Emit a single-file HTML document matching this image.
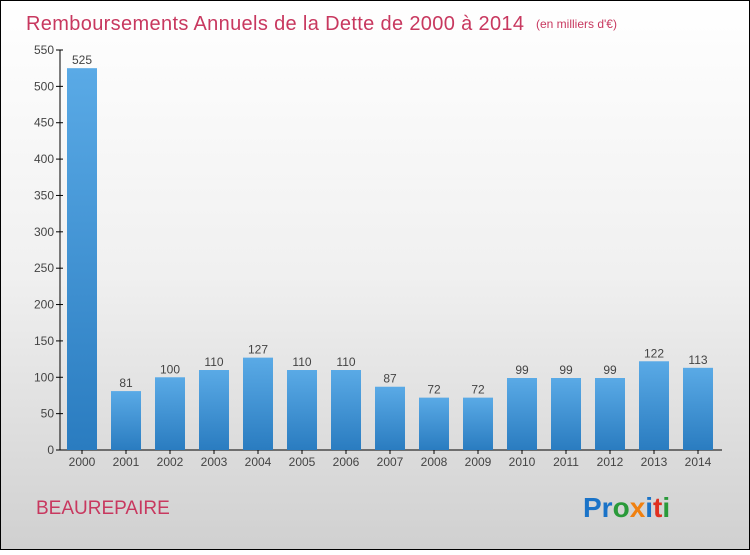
<!DOCTYPE html>
<html><head><meta charset="utf-8"><style>
body{margin:0;width:750px;height:550px;overflow:hidden;font-family:"Liberation Sans",sans-serif}
</style></head><body>
<svg width="750" height="550" xmlns="http://www.w3.org/2000/svg">
<defs>
<linearGradient id="bg" x1="0" y1="0" x2="0" y2="1"><stop offset="0" stop-color="#ffffff"/><stop offset="0.5" stop-color="#f0f0f0"/><stop offset="1" stop-color="#d0d0d0"/></linearGradient>
<linearGradient id="bar" x1="0" y1="0" x2="0" y2="1"><stop offset="0" stop-color="#5aaae6"/><stop offset="1" stop-color="#2a7cc0"/></linearGradient>
</defs>
<rect x="0.5" y="0.5" width="749" height="549" fill="url(#bg)" stroke="#000"/>
<text x="26" y="30" font-size="20" fill="#c8385f" textLength="498">Remboursements Annuels de la Dette de 2000 à 2014</text>
<text x="536" y="28" font-size="12" fill="#c8385f">(en milliers d'€)</text>
<text x="36" y="514" font-size="19" fill="#c8385f">BEAUREPAIRE</text>
<text x="583" y="517" font-size="28" font-weight="bold"><tspan fill="#1a73c8">Pr</tspan><tspan fill="#2a9a3a">o</tspan><tspan fill="#f08010">x</tspan><tspan fill="#1a73c8">i</tspan><tspan fill="#e03020">t</tspan><tspan fill="#2a9a3a">i</tspan></text>
<g id="axes"></g><g id="bars"></g>
</svg>
<script>
const categories=["2000","2001","2002","2003","2004","2005","2006","2007","2008","2009","2010","2011","2012","2013","2014"];
const values=[525,81,100,110,127,110,110,87,72,72,99,99,99,122,113];
const ticks=[0,50,100,150,200,250,300,350,400,450,500,550];
const NS="http://www.w3.org/2000/svg";
const y0=450,yTop=50,maxV=550,x0=60,step=44,firstC=82,bw=30;
const y=v=>y0-(v/maxV)*(y0-yTop);
const x=i=>firstC+i*step;
function mk(t,a,p){const e=document.createElementNS(NS,t);for(const k in a)e.setAttribute(k,a[k]);p.appendChild(e);return e;}
const ax=document.getElementById('axes'),bg=document.getElementById('bars');
const yl=mk('line',{x1:x0,y1:yTop,x2:x0,y2:y0,stroke:'#000'},ax);


const xl=mk('line',{x1:x0,y1:y0,x2:722,y2:y0,stroke:'#000'},ax);


ticks.forEach(t=>{
 mk('line',{x1:x0-4,y1:y(t),x2:x0+3,y2:y(t),stroke:'#000'},ax);
 const tx=mk('text',{x:x0-6,y:y(t)+4,'font-size':12,'text-anchor':'end',fill:'#444'},ax);
 tx.textContent=t;
 
 
});
categories.forEach((c,i)=>{
 const r=mk('rect',{x:x(i)-bw/2,y:y(values[i]),width:bw,height:y0-y(values[i]),fill:'url(#bar)'},bg);
 
 
 const v=mk('text',{x:x(i),y:y(values[i])-4,'font-size':12,'text-anchor':'middle',fill:'#444'},bg);
 v.textContent=values[i];
 
 
 mk('line',{x1:x(i),y1:y0,x2:x(i),y2:y0+4,stroke:'#000'},ax);
 const l=mk('text',{x:x(i),y:y0+16,'font-size':12,'text-anchor':'middle',fill:'#444'},ax);
 l.textContent=c;
 
 
});
</script>
</body></html>
